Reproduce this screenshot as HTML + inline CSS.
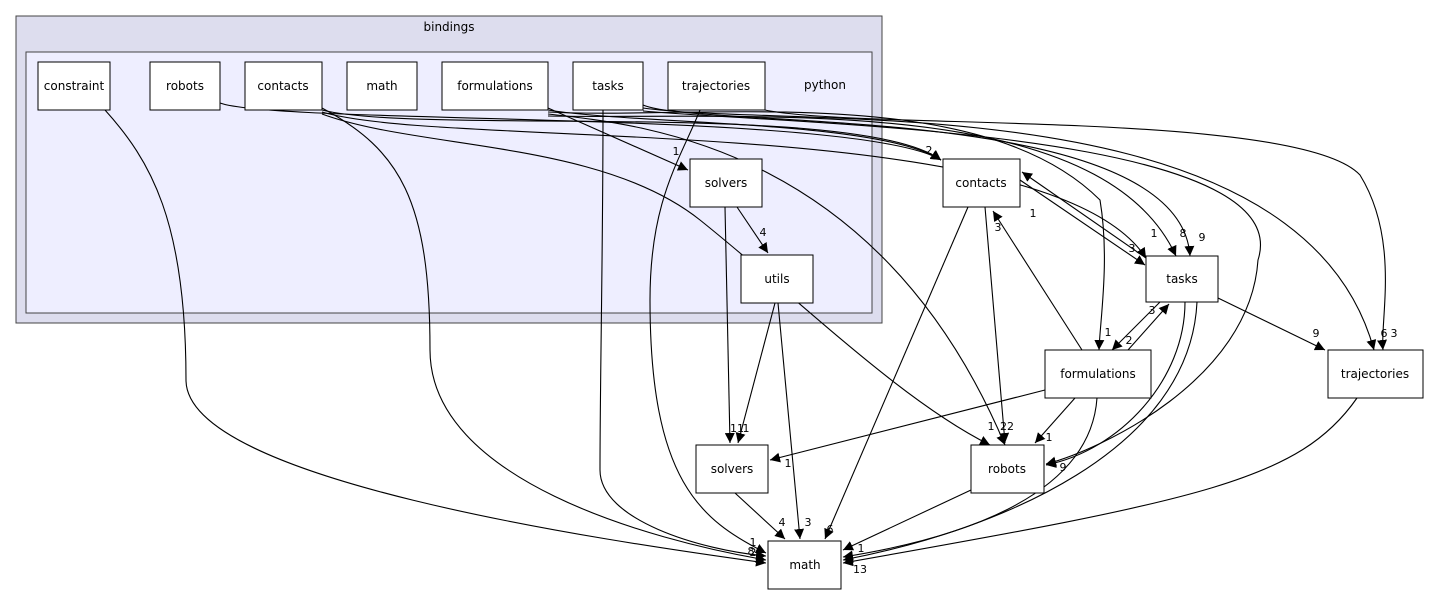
<!DOCTYPE html>
<html><head><meta charset="utf-8"><style>
html,body{margin:0;padding:0;background:#fff;}
svg{display:block;font-family:"DejaVu Sans","Liberation Sans",sans-serif;}
.n{fill:#fff;stroke:#000;stroke-width:1;}
.e{fill:none;stroke:#000;stroke-width:1.1;}
.t{font-size:12px;text-anchor:middle;}
.l{font-size:11px;text-anchor:middle;}
</style></head><body>
<svg width="1429" height="596" viewBox="0 0 1429 596" xmlns="http://www.w3.org/2000/svg">
<defs><marker id="a" viewBox="0 0 10 10" refX="10" refY="5" markerWidth="10" markerHeight="10" markerUnits="userSpaceOnUse" orient="auto"><path d="M0,0 L10,5 L0,10 z" fill="#000"/></marker></defs>
<rect x="16" y="16" width="866" height="307" fill="#ddddee" stroke="#444"/>
<text x="449" y="31" class="t">bindings</text>
<rect x="26" y="52" width="846" height="261" fill="#eeeeff" stroke="#444"/>
<text x="825" y="89" class="t">python</text>

<g class="e" marker-end="url(#a)">
<path d="M105,110 C150,160 186,220 186,380 C186,480 600,540 766,563"/>
<path d="M220,103 C280,125 860,110 941,160"/>
<path d="M322,108 C400,150 430,200 430,350 C430,480 650,540 766,560"/>
<path d="M322,110 C420,135 860,100 941,160"/>
<path d="M322,112 C450,150 1050,110 1146,258"/>
<path d="M322,114 C420,150 600,140 700,220 C800,300 900,400 990,445"/>
<path d="M548,108 L688,170"/>
<path d="M548,110 C640,125 880,120 941,160"/>
<path d="M548,112 C700,120 980,80 1100,200 C1110,260 1100,320 1099,350"/>
<path d="M548,114 C650,125 880,150 1005,445"/>
<path d="M548,116 C750,120 1100,90 1176,256"/>
<path d="M603,110 C603,250 600,380 600,470 C600,520 700,550 766,556"/>
<path d="M643,105 C700,130 1180,100 1190,256"/>
<path d="M643,108 C800,130 1300,80 1374,350"/>
<path d="M643,111 C800,125 1300,130 1258,260 C1250,380 1100,450 1046,464"/>
<path d="M700,110 C680,160 650,200 650,300 C650,480 700,520 766,553"/>
<path d="M765,110 C860,130 1300,110 1360,175 C1400,240 1380,320 1383,350"/>
<path d="M737,207 L768,253"/>
<path d="M725,207 L730,443"/>
<path d="M775,303 L738,443"/>
<path d="M778,303 L800,539"/>
<path d="M968,207 L825,539"/>
<path d="M985,207 L1005,443"/>
<path d="M1020,180 L1145,265"/>
<path d="M1146,258 L1022,172"/>
<path d="M1160,302 L1112,350"/>
<path d="M1128,350 L1169,304"/>
<path d="M1082,350 L993,211"/>
<path d="M1218,298 L1325,350"/>
<path d="M1185,302 C1185,380 1120,450 1046,465"/>
<path d="M1197,302 C1190,450 1000,530 843,560"/>
<path d="M1045,390 L770,460"/>
<path d="M1075,398 L1035,443"/>
<path d="M1097,398 C1090,500 950,540 843,557"/>
<path d="M971,490 L843,550"/>
<path d="M1357,398 C1300,480 1200,500 843,563"/>
<path d="M735,493 L785,539"/>
</g>

<g>
<rect class="n" x="38" y="62" width="72" height="48"/><text x="74" y="90" class="t">constraint</text>
<rect class="n" x="150" y="62" width="70" height="48"/><text x="185" y="90" class="t">robots</text>
<rect class="n" x="245" y="62" width="77" height="48"/><text x="283" y="90" class="t">contacts</text>
<rect class="n" x="347" y="62" width="70" height="48"/><text x="382" y="90" class="t">math</text>
<rect class="n" x="442" y="62" width="106" height="48"/><text x="495" y="90" class="t">formulations</text>
<rect class="n" x="573" y="62" width="70" height="48"/><text x="608" y="90" class="t">tasks</text>
<rect class="n" x="668" y="62" width="97" height="48"/><text x="716" y="90" class="t">trajectories</text>
<rect class="n" x="690" y="159" width="72" height="48"/><text x="726" y="187" class="t">solvers</text>
<rect class="n" x="741" y="255" width="72" height="48"/><text x="777" y="283" class="t">utils</text>
<rect class="n" x="943" y="159" width="77" height="48"/><text x="981" y="187" class="t">contacts</text>
<rect class="n" x="1146" y="256" width="72" height="46"/><text x="1182" y="283" class="t">tasks</text>
<rect class="n" x="1045" y="350" width="106" height="48"/><text x="1098" y="378" class="t">formulations</text>
<rect class="n" x="1328" y="350" width="95" height="48"/><text x="1375" y="378" class="t">trajectories</text>
<rect class="n" x="696" y="445" width="72" height="48"/><text x="732" y="473" class="t">solvers</text>
<rect class="n" x="971" y="445" width="73" height="48"/><text x="1007" y="473" class="t">robots</text>
<rect class="n" x="768" y="541" width="73" height="48"/><text x="805" y="569" class="t">math</text>
</g>

<g class="l">
<text x="676" y="155">1</text><text x="929" y="154">2</text><text x="763" y="236">4</text>
<text x="1033" y="217">1</text><text x="998" y="231">3</text><text x="1154" y="237">1</text>
<text x="1132" y="252">3</text><text x="1183" y="237">8</text><text x="1202" y="241">9</text>
<text x="1152" y="314">3</text><text x="1129" y="344">2</text><text x="1108" y="336">1</text>
<text x="1316" y="337">9</text><text x="1384" y="337">6</text><text x="1394" y="337">3</text>
<text x="737" y="432">11</text><text x="746" y="432">1</text><text x="788" y="467">1</text>
<text x="991" y="430">1</text><text x="1007" y="430">22</text><text x="1049" y="441">1</text>
<text x="1063" y="471">9</text><text x="753" y="546">1</text><text x="753" y="556">2</text>
<text x="751" y="555">8</text><text x="782" y="526">4</text><text x="808" y="526">3</text>
<text x="830" y="533">6</text><text x="861" y="552">1</text><text x="860" y="573">13</text>
</g>
</svg>
</body></html>
